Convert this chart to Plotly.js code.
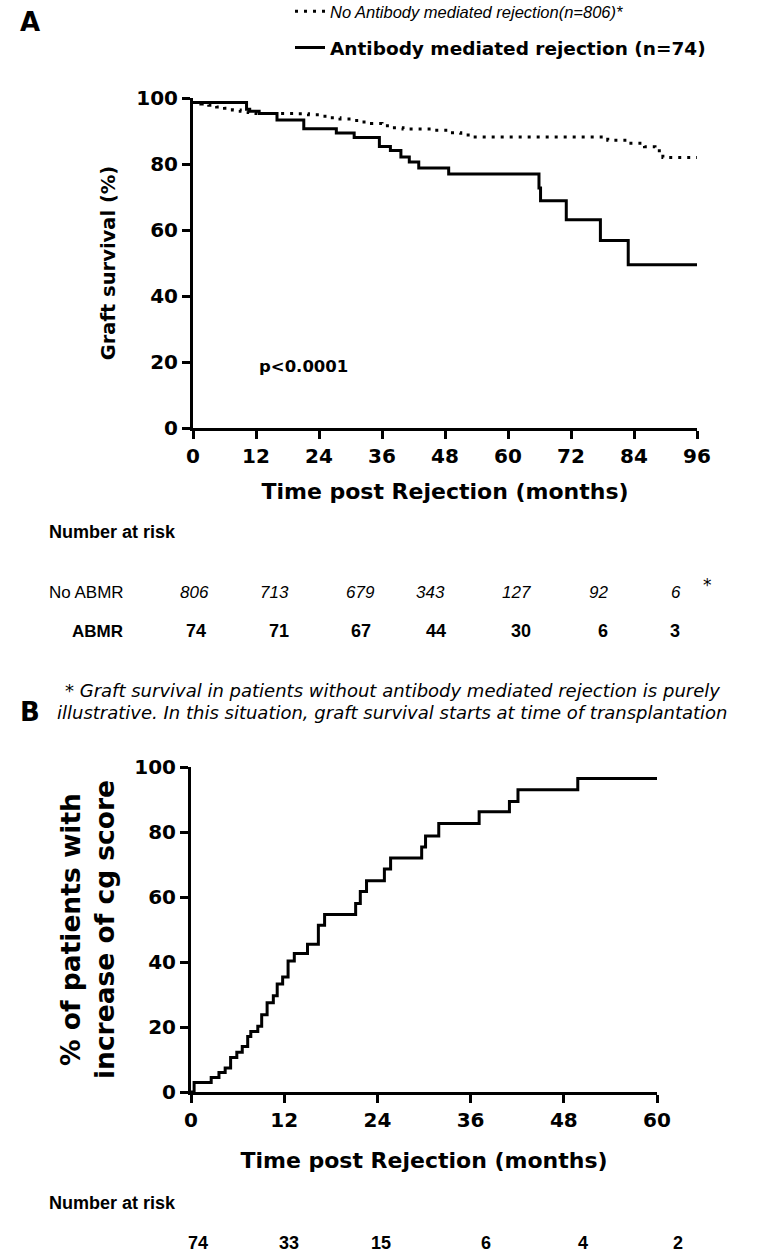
<!DOCTYPE html>
<html>
<head>
<meta charset="utf-8">
<script src="https://cdn.plot.ly/plotly-3.0.1.min.js"></script>
<style>html,body{margin:0;padding:0;background:#fff;}#chart{width:768px;height:1260px;}</style>
</head>
<body>
<div id="chart"></div>
<script>
// ---------- Panel A data: graft survival (%) ----------
const noAbmrMonths = [0, 1.5, 3, 4.5, 6, 7.5, 9, 10.5, 12, 20, 22, 24, 26, 28, 30, 32, 34, 36, 38, 40, 46, 49, 51, 53, 79, 83, 86, 88, 89.5, 96];
const noAbmrSurvival = [98.6, 98.2, 97.8, 97.3, 96.9, 96.4, 96.0, 95.6, 95.3, 95.2, 94.9, 94.5, 94.0, 93.6, 93.2, 92.7, 92.3, 91.6, 91.0, 90.6, 90.2, 89.5, 88.8, 88.2, 87.2, 86.3, 85.2, 84.0, 82.0, 82.0];

const abmrMonths = [0, 10.2, 10.8, 12.6, 16.0, 21.1, 27.3, 30.7, 35.5, 37.6, 39.6, 41.2, 43.0, 48.7, 65.9, 66.2, 71.1, 77.6, 82.9, 96];
const abmrSurvival = [98.6, 96.6, 96.0, 95.3, 93.3, 90.7, 89.4, 88.0, 85.3, 84.1, 82.1, 80.6, 78.8, 77.0, 72.7, 68.9, 63.1, 56.8, 49.5, 49.5];

const riskNoAbmr = ["806", "713", "679", "343", "127", "92", "6"];
const riskAbmr = ["74", "71", "67", "44", "30", "6", "3"];

// ---------- Panel B data: cumulative % with increase of cg score ----------
const cgMonths = [0, 0.4, 2.6, 3.6, 4.4, 5.1, 5.9, 6.6, 7.3, 7.7, 8.6, 9.1, 9.8, 10.6, 11.1, 11.8, 12.5, 13.3, 15.0, 16.4, 17.2, 21.2, 21.8, 22.6, 24.9, 25.7, 29.7, 30.2, 31.9, 37.1, 41.0, 42.1, 49.8, 60];
const cgPercent = [0, 2.9, 4.5, 6.0, 7.4, 10.6, 12.2, 14.0, 17.1, 18.6, 20.2, 23.8, 27.5, 29.6, 33.2, 35.4, 40.3, 42.6, 45.5, 51.3, 54.6, 58.0, 61.7, 65.0, 68.6, 72.0, 75.4, 78.8, 82.6, 86.2, 89.4, 93.0, 96.5, 96.5];
const riskB = ["74", "33", "15", "6", "4", "2"];

// ---------- text ----------
const legendNoAbmr = "<i>No Antibody mediated rejection(n=806)*</i>";
const legendAbmr = "<b>Antibody mediated rejection (n=74)</b>";
const footnote1 = "* Graft survival in patients without antibody mediated rejection is purely";
const footnote2 = "illustrative. In this situation, graft survival starts at time of transplantation";

// ---------- layout helpers ----------
const W = 768, H = 1260;
const px = v => v / W;
const py = v => 1 - v / H;

const SANS = "DejaVu Sans, Verdana, sans-serif";
const NARROW = "Liberation Sans Narrow, Arial Narrow, Liberation Sans, sans-serif";
const ARIAL = "Liberation Sans, Arial, sans-serif";

const traces = [
  {x: noAbmrMonths, y: noAbmrSurvival, type: "scatter", mode: "lines", line: {shape: "hv", color: "#000", width: 3, dash: "3px,6px"},
   name: legendNoAbmr, xaxis: "x", yaxis: "y", legend: "legend", hoverinfo: "skip"},
  {x: abmrMonths, y: abmrSurvival, type: "scatter", mode: "lines", line: {shape: "hv", color: "#000", width: 3},
   name: legendAbmr, xaxis: "x", yaxis: "y", legend: "legend2", hoverinfo: "skip"},
  {x: cgMonths, y: cgPercent, type: "scatter", mode: "lines", line: {shape: "hv", color: "#000", width: 3},
   name: "cg score", xaxis: "x2", yaxis: "y2", showlegend: false, hoverinfo: "skip"}
];

const axisCommon = {
  showgrid: false, zeroline: false, showline: true, linecolor: "#000", linewidth: 3,
  ticks: "outside", ticklen: 8, tickwidth: 3, tickcolor: "#000",
  tickfont: {family: SANS, size: 20, color: "#000", weight: 700}
};
const titleFont = {family: SANS, size: 22, color: "#000", weight: 700};

const annotations = [];
function addText(text, x, y, opts) {
  annotations.push(Object.assign({text: text, x: px(x), y: py(y), xref: "paper", yref: "paper", showarrow: false,
    xanchor: "center", yanchor: "middle"}, opts));
}

addText("A", 18, 22, {xanchor: "left", font: {family: SANS, size: 26, color: "#000", weight: 700}});
addText("B", 18, 712, {xanchor: "left", font: {family: SANS, size: 26, color: "#000", weight: 700}});
annotations.push({text: "p<0.0001", x: 21, y: 18.5, xref: "x", yref: "y", showarrow: false, xanchor: "center", yanchor: "middle",
  font: {family: SANS, size: 16.5, color: "#000", weight: 700}});

// Number at risk, panel A
addText("Number at risk", 47, 532, {xanchor: "left", font: {family: NARROW, size: 18, color: "#000", weight: 700}});
addText("No ABMR", 47, 592, {xanchor: "left", font: {family: NARROW, size: 17, color: "#000"}});
addText("ABMR", 125, 631, {xanchor: "right", font: {family: NARROW, size: 17, color: "#000", weight: 700}});
const riskPosA1 = [194, 274, 360, 430, 516, 598, 676];
const riskPosA2 = [196, 279, 361, 436, 521, 603, 675];
riskNoAbmr.forEach((t, i) => addText("<i>" + t + "</i>", riskPosA1[i], 592, {font: {family: NARROW, size: 17, color: "#000"}}));
addText("*", 707, 585, {font: {family: SANS, size: 17, color: "#000"}});
riskAbmr.forEach((t, i) => addText(t, riskPosA2[i], 631, {font: {family: NARROW, size: 18, color: "#000", weight: 700}}));

addText("<i>" + footnote1 + "</i>", 392, 690, {font: {family: SANS, size: 18, color: "#000"}});
addText("<i>" + footnote2 + "</i>", 392, 712, {font: {family: SANS, size: 18, color: "#000"}});

// Number at risk, panel B
addText("Number at risk", 47, 1203, {xanchor: "left", font: {family: NARROW, size: 18, color: "#000", weight: 700}});
const riskPosB = [198, 289, 381, 486, 583, 678];
riskB.forEach((t, i) => addText(t, riskPosB[i], 1243, {font: {family: NARROW, size: 18, color: "#000", weight: 700}}));

const layout = {
  width: W, height: H,
  margin: {l: 0, r: 0, t: 0, b: 0, autoexpand: false},
  paper_bgcolor: "#fff", plot_bgcolor: "#fff",
  showlegend: true,
  xaxis: Object.assign({}, axisCommon, {domain: [px(193), px(697)], range: [0, 96], tickvals: [0, 12, 24, 36, 48, 60, 72, 84, 96], anchor: "y",
    title: {text: "Time post Rejection (months)", font: titleFont, standoff: 17}}),
  yaxis: Object.assign({}, axisCommon, {domain: [py(428), py(98)], range: [0, 100], tickvals: [0, 20, 40, 60, 80, 100], anchor: "x",
    title: {text: "Graft survival (%)", font: Object.assign({}, titleFont, {size: 19.5}), standoff: 16}}),
  xaxis2: Object.assign({}, axisCommon, {domain: [px(191), px(657)], range: [0, 60], tickvals: [0, 12, 24, 36, 48, 60], anchor: "y2",
    title: {text: "Time post Rejection (months)", font: titleFont, standoff: 22}}),
  yaxis2: Object.assign({}, axisCommon, {domain: [py(1092), py(767)], range: [0, 100], tickvals: [0, 20, 40, 60, 80, 100], anchor: "x2",
    title: {text: "% of patients with<br>increase of cg score", font: Object.assign({}, titleFont, {size: 26.5}), standoff: 12}}),
  legend: {x: px(290), y: py(-6), xanchor: "left", yanchor: "top", bgcolor: "rgba(0,0,0,0)",
    font: {family: ARIAL, size: 16.5, color: "#000"}},
  legend2: {x: px(290), y: py(29), xanchor: "left", yanchor: "top", bgcolor: "rgba(0,0,0,0)",
    font: {family: SANS, size: 18.5, color: "#000"}},
  annotations: annotations
};

Plotly.newPlot("chart", traces, layout, {staticPlot: true, displayModeBar: false});
</script>
</body>
</html>
